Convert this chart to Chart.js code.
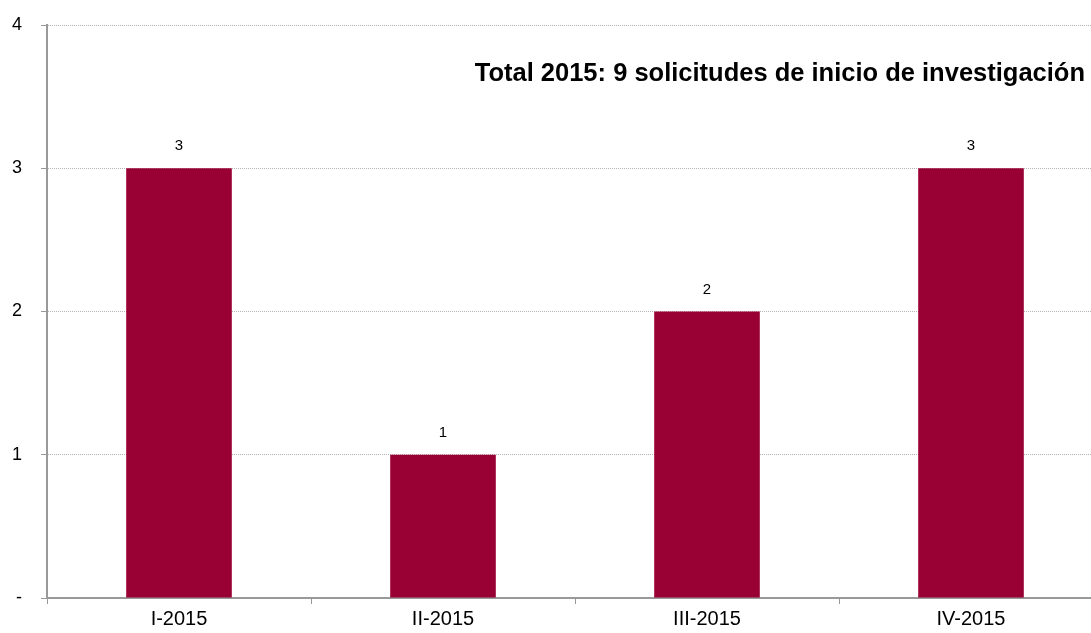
<!DOCTYPE html>
<html>
<head>
<meta charset="utf-8">
<script src="https://cdn.jsdelivr.net/npm/chart.js@4/dist/chart.umd.min.js"></script>
<style>
  html, body { margin: 0; padding: 0; background: #fff; overflow: hidden; }
  #wrap { width: 1103px; height: 633px; }
</style>
</head>
<body>
<div id="wrap"><canvas id="c"></canvas></div>
<script>
// ── DATOS ─────────────────────────────────────────────
const trimestres = ['I-2015', 'II-2015', 'III-2015', 'IV-2015'];
const solicitudes = [3, 1, 2, 3];
const tituloTotal = 'Total 2015: 9 solicitudes de inicio de investigación';

const fontFam = '"Liberation Sans", Arial, sans-serif';
const barColor = '#990033';

// etiquetas de valor encima de cada barra
const valueLabels = {
  id: 'valueLabels',
  afterDatasetsDraw(chart) {
    const ctx = chart.ctx;
    const meta = chart.getDatasetMeta(0);
    ctx.save();
    ctx.font = '15px ' + fontFam;
    ctx.fillStyle = '#000';
    ctx.textAlign = 'center';
    ctx.textBaseline = 'middle';
    meta.data.forEach((bar, i) => {
      ctx.fillText(String(solicitudes[i]), bar.x, bar.y - 22);
    });
    ctx.restore();
  }
};

// texto del total dentro del área del gráfico
const totalText = {
  id: 'totalText',
  afterDraw(chart) {
    const ctx = chart.ctx;
    ctx.save();
    ctx.font = 'bold 25.5px ' + fontFam;
    ctx.fillStyle = '#000';
    ctx.textAlign = 'right';
    ctx.textBaseline = 'alphabetic';
    ctx.fillText(tituloTotal, 1085, 81);
    ctx.restore();
  }
};

new Chart(document.getElementById('c'), {
  type: 'bar',
  data: {
    labels: trimestres,
    datasets: [{
      data: solicitudes,
      backgroundColor: barColor,
      borderWidth: 0,
      barPercentage: 0.8,
      categoryPercentage: 0.5,
    }],
  },
  options: {
    responsive: true,
    maintainAspectRatio: false,
    animation: false,
    layout: { padding: { top: 25, right: 0, left: 0, bottom: 0 } },
    plugins: { legend: { display: false }, tooltip: { enabled: false } },
    scales: {
      x: {
        grid: { offset: true, drawOnChartArea: false, drawTicks: true, tickLength: 6, color: '#999', lineWidth: 1 },
        border: { color: '#999', width: 2 },
        ticks: { color: '#000', font: { family: fontFam, size: 20 }, padding: 3 },
        afterFit(s) { s.height = 35; s.paddingLeft = 0; s.paddingRight = 0; },
      },
      y: {
        min: 0, max: 4,
        grid: { color: '#b4b4b4', lineWidth: 1, tickLength: 6, tickColor: '#999', drawTicks: true },
        border: { color: '#999', width: 2, dash: [1, 1] },
        ticks: {
          stepSize: 1,
          color: '#000',
          font: { family: fontFam, size: 18 },
          padding: 19,
          callback: v => (v === 0 ? '-' : v),
        },
        afterFit(s) { s.width = 47; s.paddingTop = 0; s.paddingBottom = 0; },
      },
    },
  },
  plugins: [valueLabels, totalText],
});
</script>
</body>
</html>
